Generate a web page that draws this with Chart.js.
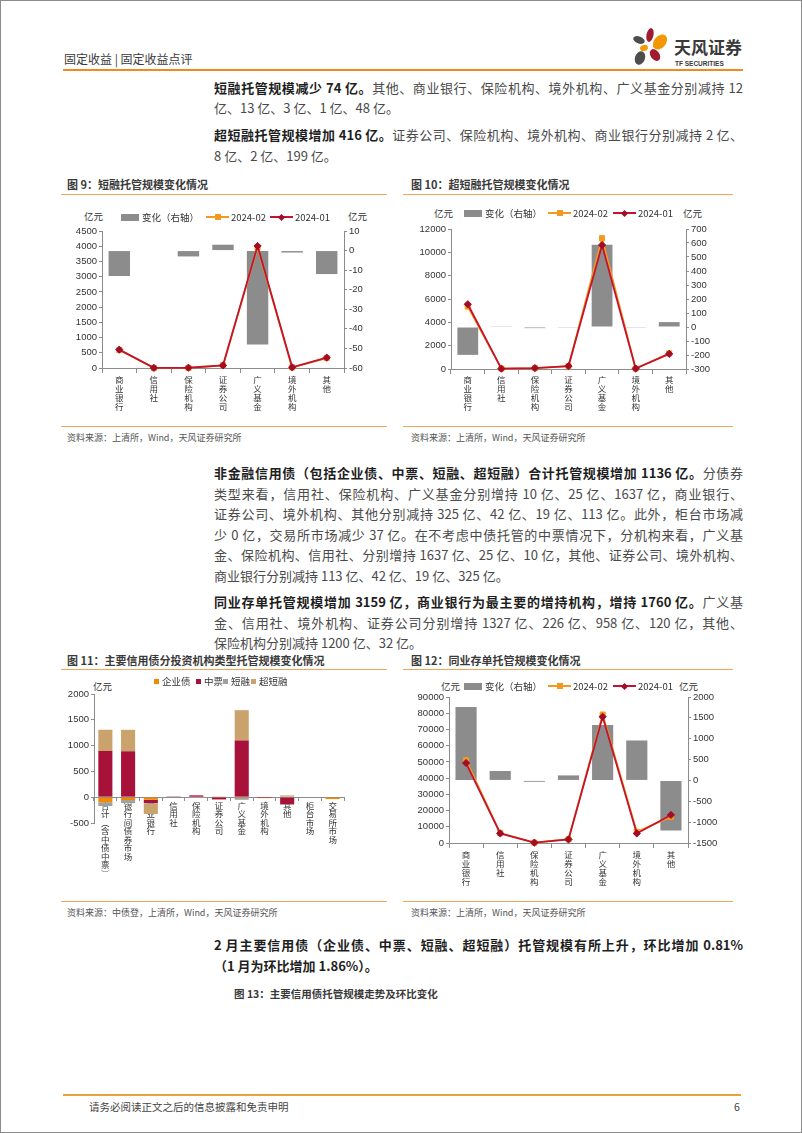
<!DOCTYPE html>
<html lang="zh-CN">
<head>
<meta charset="UTF-8">
<meta name="viewport" content="width=device-width, initial-scale=1.0">
<title>固定收益点评 - 托管规模变化</title>
<script src="https://cdn.jsdelivr.net/npm/chart.js"></script>
<style>
  body { margin: 0; background: #fff; }
  .page { position: relative; width: 802px; height: 1133px; box-sizing: border-box; border: 1px solid #8c8c8c; overflow: hidden;
          font-family: "Noto Sans CJK SC", sans-serif; color: #404040; }
  .abs { position: absolute; white-space: nowrap; }
  .rule { position: absolute; height: 0; border-top: 1.5px solid #f2a55a; }
  .ln { position: absolute; left: 213px; width: 529px; height: 21px; line-height: 21px; font-size: 13px; white-space: nowrap;
        text-align: justify; text-align-last: justify; color: #4a4a4a; }
  .ln.end { text-align-last: left; }
  .ln b { color: #1e1e1e; }
  .fig { position: absolute; font-size: 11px; font-weight: bold; color: #3a3a3a; line-height: 14px; white-space: nowrap; }
  .src { position: absolute; font-size: 9px; color: #555; line-height: 12px; white-space: nowrap; }
  .unit { position: absolute; font-size: 9.5px; color: #333; line-height: 12px; }
  .lg { position: absolute; font-size: 9.5px; color: #333; line-height: 12px; white-space: nowrap; }
  canvas { position: absolute; }
</style>
</head>
<body>
<div class="page" id="page">

  <!-- 页眉 -->
  <div class="abs" style="left:63px;top:50px;font-size:12px;line-height:16px;color:#3a3a3a;">固定收益 | 固定收益点评</div>
  <svg class="abs" style="left:628px;top:24px;" width="44" height="44" viewBox="628 24 44 44">
    <ellipse cx="649" cy="34" rx="3.5" ry="7" fill="#9e1b32" transform="rotate(12 649 34)"/>
    <ellipse cx="659" cy="41" rx="6" ry="8.5" fill="#f39800" transform="rotate(40 659 41)"/>
    <ellipse cx="638" cy="39" rx="6" ry="3.5" fill="#4d4d4d" transform="rotate(20 638 39)"/>
    <ellipse cx="643" cy="47" rx="4" ry="3" fill="#f39800" transform="rotate(-20 643 47)"/>
    <ellipse cx="639" cy="57" rx="5" ry="7" fill="#4d4d4d" transform="rotate(20 639 57)"/>
    <ellipse cx="654" cy="54" rx="4.5" ry="6.5" fill="#9e1b32" transform="rotate(-35 654 54)"/>
  </svg>
  <div class="abs" style="left:673px;top:36px;font-size:17px;line-height:20px;font-weight:bold;color:#3a3a3a;">天风证券</div>
  <div class="abs" style="left:674px;top:59px;font-size:6.5px;line-height:8px;font-weight:bold;color:#3a3a3a;font-family:'Liberation Sans',sans-serif;">TF SECURITIES</div>
  <div class="abs" style="left:62px;top:68px;width:680px;height:2px;background:#ef8a1c;"></div>

  <!-- 正文 -->
  <div class="ln" style="top:76px;"><b>短融托管规模减少 74 亿。</b>其他、商业银行、保险机构、境外机构、广义基金分别减持 12</div>
  <div class="ln end" style="top:96px;">亿、13 亿、3 亿、1 亿、48 亿。</div>
  <div class="ln" style="top:123px;"><b>超短融托管规模增加 416 亿。</b>证券公司、保险机构、境外机构、商业银行分别减持 2 亿、</div>
  <div class="ln end" style="top:144px;">8 亿、2 亿、199 亿。</div>

  <div class="fig" style="left:66px;top:176px;">图 9：短融托管规模变化情况</div>
  <div class="fig" style="left:410px;top:176px;">图 10：超短融托管规模变化情况</div>
  <div class="rule" style="left:60px;top:193px;width:326px;"></div>
  <div class="rule" style="left:402px;top:193px;width:330px;"></div>

  <div class="unit" style="left:83px;top:209px;">亿元</div>
  <div class="unit" style="left:347px;top:209px;">亿元</div>
  <div class="unit" style="left:433px;top:206px;">亿元</div>
  <div class="unit" style="left:682px;top:206px;">亿元</div>

  <canvas id="c9" width="323" height="200" style="left:62px;top:220px;"></canvas>
  <canvas id="c10" width="330" height="202" style="left:402px;top:218px;"></canvas>

  <div class="rule" style="left:60px;top:425px;width:326px;"></div>
  <div class="rule" style="left:402px;top:425px;width:330px;"></div>
  <div class="src" style="left:66px;top:431px;">资料来源：上清所，Wind，天风证券研究所</div>
  <div class="src" style="left:410px;top:431px;">资料来源：上清所，Wind，天风证券研究所</div>

  <div class="ln" style="top:461px;"><b>非金融信用债（包括企业债、中票、短融、超短融）合计托管规模增加 1136 亿。</b>分债券</div>
  <div class="ln" style="top:482px;">类型来看，信用社、保险机构、广义基金分别增持 10 亿、25 亿、1637 亿，商业银行、</div>
  <div class="ln" style="top:502px;">证券公司、境外机构、其他分别减持 325 亿、42 亿、19 亿、113 亿。此外，柜台市场减</div>
  <div class="ln" style="top:523px;">少 0 亿，交易所市场减少 37 亿。在不考虑中债托管的中票情况下，分机构来看，广义基</div>
  <div class="ln" style="top:543px;">金、保险机构、信用社、分别增持 1637 亿、25 亿、10 亿，其他、证券公司、境外机构、</div>
  <div class="ln end" style="top:564px;">商业银行分别减持 113 亿、42 亿、19 亿、325 亿。</div>

  <div class="ln" style="top:590px;"><b>同业存单托管规模增加 3159 亿，商业银行为最主要的增持机构，增持 1760 亿。</b>广义基</div>
  <div class="ln" style="top:611px;">金、信用社、境外机构、证券公司分别增持 1327 亿、226 亿、958 亿、120 亿，其他、</div>
  <div class="ln end" style="top:631px;">保险机构分别减持 1200 亿、32 亿。</div>

  <div class="fig" style="left:66px;top:652px;">图 11：主要信用债分投资机构类型托管规模变化情况</div>
  <div class="fig" style="left:410px;top:652px;">图 12：同业存单托管规模变化情况</div>
  <div class="rule" style="left:60px;top:668px;width:326px;"></div>
  <div class="rule" style="left:402px;top:668px;width:330px;"></div>

  <div class="unit" style="left:92px;top:679px;">亿元</div>
  <div class="unit" style="left:440px;top:679px;">亿元</div>
  <div class="unit" style="left:678px;top:679px;">亿元</div>

  <canvas id="c11" width="323" height="217" style="left:62px;top:683px;"></canvas>
  <canvas id="c12" width="330" height="214" style="left:402px;top:686px;"></canvas>

  <div class="rule" style="left:60px;top:900px;width:326px;"></div>
  <div class="rule" style="left:402px;top:900px;width:330px;"></div>
  <div class="src" style="left:66px;top:906px;">资料来源：中债登，上清所，Wind，天风证券研究所</div>
  <div class="src" style="left:410px;top:906px;">资料来源：上清所，Wind，天风证券研究所</div>

  <div class="ln" style="top:933px;"><b>2 月主要信用债（企业债、中票、短融、超短融）托管规模有所上升，环比增加 0.81%</b></div>
  <div class="ln end" style="top:954px;"><b>（1 月为环比增加 1.86%）。</b></div>

  <div class="fig" style="left:233px;top:986px;font-size:10.5px;">图 13：主要信用债托管规模走势及环比变化</div>

  <!-- 页脚 -->
  <div class="abs" style="left:62px;top:1093px;width:678px;height:2px;background:#e9a23c;"></div>
  <div class="abs" style="left:88px;top:1099px;font-size:10.5px;line-height:14px;color:#444;">请务必阅读正文之后的信息披露和免责申明</div>
  <div class="abs" style="left:733px;top:1099px;font-size:10.5px;line-height:14px;color:#444;">6</div>
</div>

<script>
  // 分机构类别
  const institutions = ['商业银行', '信用社', '保险机构', '证券公司', '广义基金', '境外机构', '其他'];
  const seriesNames = ['变化（右轴）', '2024-02', '2024-01'];

  // 图9 短融托管（亿元）
  const cpChange = [-13, 0, -3, 3, -48, -1, -12];
  const cpFeb = [590, 3, 5, 88, 3960, 21, 328];
  const cpJan = [603, 3, 8, 85, 4008, 22, 340];
  const cpLeftAxis = [0, 4500, 500];
  const cpRightAxis = [-60, 10, 10];

  // 图10 超短融托管
  const scpChange = [-199, 5, -8, -2, 587, -2, 35];
  const scpFeb = [5351, 35, 72, 248, 11207, 38, 1335];
  const scpJan = [5550, 30, 80, 250, 10620, 40, 1300];
  const scpLeftAxis = [0, 12000, 2000];
  const scpRightAxis = [-300, 700, 100];

  // 图11 主要信用债分机构变化
  const creditCats = ['合计（含中债中票）', '银行间债券市场', '商业银行', '信用社', '保险机构', '证券公司',
                      '广义基金', '境外机构', '其他', '柜台市场', '交易所市场'];
  const creditSeries = ['企业债', '中票', '短融', '超短融'];
  const entBond = [-97, -55, -50, 0, 0, -5, -2, -4, 0, 0, -37];
  const mtnBond = [897, 890, -63, 5, 36, -38, 1100, -12, -136, 0, 0];
  const cpBond = [-74, -60, -13, 0, -3, 3, -48, -1, -12, 0, 0];
  const scpBond = [410, 416, -199, 5, -8, -2, 587, -2, 35, 0, 0];
  const creditAxis = [-500, 2000, 500];

  // 图12 同业存单托管
  const ncdChange = [1760, 226, -32, 120, 1327, 958, -1200];
  const ncdFeb = [51060, 6126, 198, 2320, 79127, 6858, 16100];
  const ncdJan = [49300, 5900, 230, 2200, 77800, 5900, 17300];
  const ncdLeftAxis = [0, 90000, 10000];
  const ncdRightAxis = [-1500, 2000, 500];

  const CJK = '"Noto Sans CJK SC", sans-serif';
  const NUM = '"Liberation Sans", Arial, sans-serif';
  const GRAY = '#8c8c8c';
  const ORANGE = '#f39a1e';
  const RED = '#c3132f';
  const RED_DARK = '#a30c27';
  const creditColors = ['#f08a00', '#a8123a', '#a0a0a0', '#c9a36b'];
  const AXIS = '#8c8c8c';

  Chart.defaults.font.family = NUM;
  Chart.defaults.color = '#333';

  // 竖排标签：逐字换行
  function toVertical(s) {
    return Array.from(s.replace('（', '︵').replace('）', '︶'));
  }

  function axisGrid(len) {
    return { display: true, drawOnChartArea: false, drawTicks: true, tickLength: len, color: AXIS, lineWidth: 1 };
  }
  const axisBorder = { display: true, color: AXIS, width: 1 };
  const numTicks = (step) => ({ stepSize: step, font: { family: NUM, size: 9.5 }, color: '#333', padding: 2,
                               autoSkip: false, callback: v => String(v) });

  function comboChart(id, change, feb, jan, leftAxis, rightAxis, box) {
    return new Chart(document.getElementById(id), {
      type: 'bar',
      data: {
        labels: institutions.map(toVertical),
        datasets: [
          { label: seriesNames[0], data: change, yAxisID: 'y1', backgroundColor: GRAY,
            barPercentage: 0.62, categoryPercentage: 1, order: 3 },
          { type: 'line', label: seriesNames[1], data: feb, yAxisID: 'y', borderColor: ORANGE, backgroundColor: ORANGE,
            borderWidth: 1.8, pointStyle: 'rect', pointRadius: 3.6, pointBorderWidth: 1, clip: false, order: 2 },
          { type: 'line', label: seriesNames[2], data: jan, yAxisID: 'y', borderColor: RED, backgroundColor: RED_DARK,
            pointBorderColor: RED_DARK, borderWidth: 1.8, pointStyle: 'rectRot', pointRadius: 3.6, pointBorderWidth: 1,
            clip: false, order: 1 }
        ]
      },
      options: {
        responsive: false, animation: false, devicePixelRatio: 1,
        layout: { padding: { top: box.top, left: 0, right: 0, bottom: 0 } },
        plugins: { legend: { display: false }, tooltip: { enabled: false } },
        scales: {
          x: { grid: axisGrid(5), border: axisBorder,
               ticks: { font: { family: CJK, size: 8.5, lineHeight: 1.06 }, color: '#333', padding: box.lp,
                        maxRotation: 0, autoSkip: false },
               afterFit: s => { s.height = box.xh; } },
          y: { position: 'left', min: leftAxis[0], max: leftAxis[1], grid: axisGrid(3), border: axisBorder,
               ticks: numTicks(leftAxis[2]), afterFit: s => { s.width = box.yl; } },
          y1: { position: 'right', min: rightAxis[0], max: rightAxis[1], grid: axisGrid(3), border: axisBorder,
                ticks: numTicks(rightAxis[2]), afterFit: s => { s.width = box.yr; } }
        }
      }
    });
  }

  comboChart('c9', cpChange, cpFeb, cpJan, cpLeftAxis, cpRightAxis, { top: 10, xh: 53, yl: 39, yr: 42, lp: 2 });
  comboChart('c10', scpChange, scpFeb, scpJan, scpLeftAxis, scpRightAxis, { top: 10, xh: 52, yl: 48, yr: 47, lp: 1 });
  comboChart('c12', ncdChange, ncdFeb, ncdJan, ncdLeftAxis, ncdRightAxis, { top: 10, xh: 58, yl: 46, yr: 45, lp: 2 });

  const creditData = [entBond, mtnBond, cpBond, scpBond];
  new Chart(document.getElementById('c11'), {
    type: 'bar',
    data: {
      labels: creditCats.map(toVertical),
      datasets: creditSeries.map((name, i) => ({
        label: name, data: creditData[i], backgroundColor: creditColors[i],
        barPercentage: 0.62, categoryPercentage: 1
      }))
    },
    options: {
      responsive: false, animation: false, devicePixelRatio: 1,
      layout: { padding: { top: 10, right: 42, bottom: 78, left: 0 } },
      plugins: { legend: { display: false }, tooltip: { enabled: false } },
      scales: {
        x: { stacked: true, position: { y: 0 }, grid: axisGrid(3), border: axisBorder,
             ticks: { font: { family: CJK, size: 8.5, lineHeight: 1.0 }, color: '#333', padding: 1,
                      maxRotation: 0, autoSkip: false } },
        y: { stacked: true, min: creditAxis[0], max: creditAxis[1], grid: axisGrid(3), border: axisBorder,
             ticks: numTicks(creditAxis[2]), afterFit: s => { s.width = 31; } }
      }
    }
  });

  // 图例（HTML）
  const page = document.getElementById('page');
  function addEl(style, text) {
    const d = document.createElement('div');
    d.className = 'lg';
    d.setAttribute('style', style);
    if (text) d.textContent = text;
    page.appendChild(d);
  }
  function boxItem(x, y, color, text, w, h) {
    addEl(`left:${x}px;top:${y - h / 2}px;width:${w}px;height:${h}px;background:${color};`);
    addEl(`left:${x + w + 3}px;top:${y - 6}px;`, text);
  }
  function lineItem(x, y, color, markColor, diamond, text) {
    addEl(`left:${x}px;top:${y - 1}px;width:23px;height:2px;background:${color};`);
    const s = diamond ? 5 : 6;
    addEl(`left:${x + 11.5 - s / 2}px;top:${y - s / 2}px;width:${s}px;height:${s}px;background:${markColor};` +
          (diamond ? 'transform:rotate(45deg);' : ''));
    addEl(`left:${x + 25}px;top:${y - 6}px;`, text);
  }
  function comboLegend(xs, y) {
    boxItem(xs[0], y, GRAY, seriesNames[0], 18, 7);
    lineItem(xs[1], y, ORANGE, ORANGE, false, seriesNames[1]);
    lineItem(xs[2], y, RED, RED_DARK, true, seriesNames[2]);
  }
  comboLegend([120, 205, 269], 216);
  comboLegend([463, 547, 612], 212);
  comboLegend([463, 547, 612], 685);

  const creditLegendX = [153, 195, 222, 250];
  creditSeries.forEach((name, i) => boxItem(creditLegendX[i], 680, creditColors[i], name, 5, 5));
</script>
</body>
</html>
